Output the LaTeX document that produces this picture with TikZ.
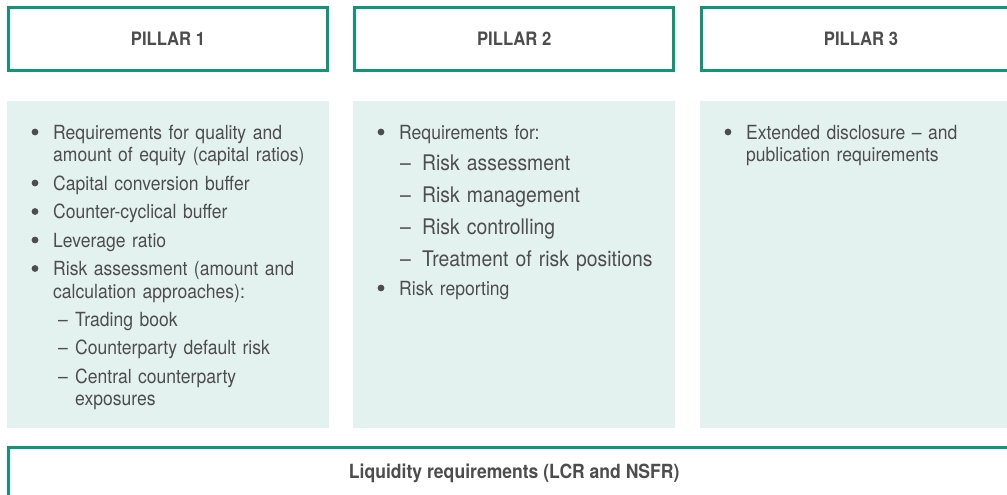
\documentclass[tikz,border=0pt]{standalone}
\usepackage{fontspec}
\setmainfont{TeX Gyre Heros}[FakeStretch=0.9]
\usetikzlibrary{positioning}

\definecolor{pillargreen}{HTML}{0E9677}
\definecolor{pillarfill}{HTML}{E3F2EF}
\definecolor{pillartext}{HTML}{4D4D4D}

\newcommand\pdash[1][17pt]{\llap{\makebox[#1][l]{--}}}

\begin{document}
\begin{tikzpicture}[
        x=1pt,
        y=-1pt,
        text=pillartext,
        node distance=29pt,
        head/.style={
            rectangle,
            draw=pillargreen,
            line width=3pt,
            minimum width=319pt,
            minimum height=62.5pt,
            font=\fontsize{18.5}{22}\selectfont\bfseries,
        },
        panel/.style={
            rectangle,
            fill=pillarfill,
            minimum width=322pt,
            minimum height=327pt,
            inner sep=0pt,
        },
        itm/.style={
            anchor=base west,
            inner sep=0pt,
            text width=260pt,
            align=left,
            font=\fontsize{19.5}{22.5}\selectfont,
        },
        sub/.style={
            itm,
            font=\fontsize{21.5}{25}\selectfont,
        },
    ]
    \useasboundingbox (0,0) rectangle (1007,495);
    \clip (0,0) rectangle (1007,495);

    \node [head] (p1head) at (168,39.25) {PILLAR 1};
    \node [head] (p2head) at (514.2,39.25) {PILLAR 2};
    \node [head] (p3head) at (861,39.25) {PILLAR 3};

    \node [panel, below=of p1head] (p1box) {};
    \node [panel, below=of p2head] (p2box) {};
    \node [panel, below=of p3head] (p3box) {};

    \node [head, font=\fontsize{19.5}{22}\selectfont\bfseries, minimum width=1011pt, minimum height=50.6pt, below=17.7pt of p2box] (liq) {Liquidity requirements (LCR and NSFR)};

    % pillar 1
    \node [itm] (p1a) at (53,139) {Requirements for quality and\\amount of equity (capital ratios)};
    \node [itm] (p1b) at (53,190) {Capital conversion buffer};
    \node [itm] (p1c) at (53,218.5) {Counter-cyclical buffer};
    \node [itm] (p1d) at (53,247) {Leverage ratio};
    \node [itm] (p1e) at (53,275.5) {Risk assessment (amount and\\calculation approaches):};
    \node [itm] (p1f) at (75,326) {\pdash Trading book};
    \node [itm] (p1g) at (75,354.5) {\pdash Counterparty default risk};
    \node [itm] (p1h) at (75,383) {\pdash Central counterparty\\exposures};

    % pillar 2
    \node [itm] (p2a) at (399,139) {Requirements for:};
    \node [sub] (p2b) at (422,170) {\pdash[22pt]{}Risk assessment};
    \node [sub] (p2c) at (422,202) {\pdash[22pt]{}Risk management};
    \node [sub] (p2d) at (422,234) {\pdash[22pt]{}Risk controlling};
    \node [sub] (p2e) at (422,266) {\pdash[22pt]{}Treatment of risk positions};
    \node [itm] (p2f) at (399,295) {Risk reporting};

    % pillar 3
    \node [itm] (p3a) at (746,139) {Extended disclosure -- and\\publication requirements};

    % bullets
    \foreach \n in {p1a,p1b,p1c,p1d,p1e,p2a,p2f,p3a}
        \fill [pillartext] ([shift={(-18,-7)}]\n.base west) circle (3.4pt);
\end{tikzpicture}
\end{document}
